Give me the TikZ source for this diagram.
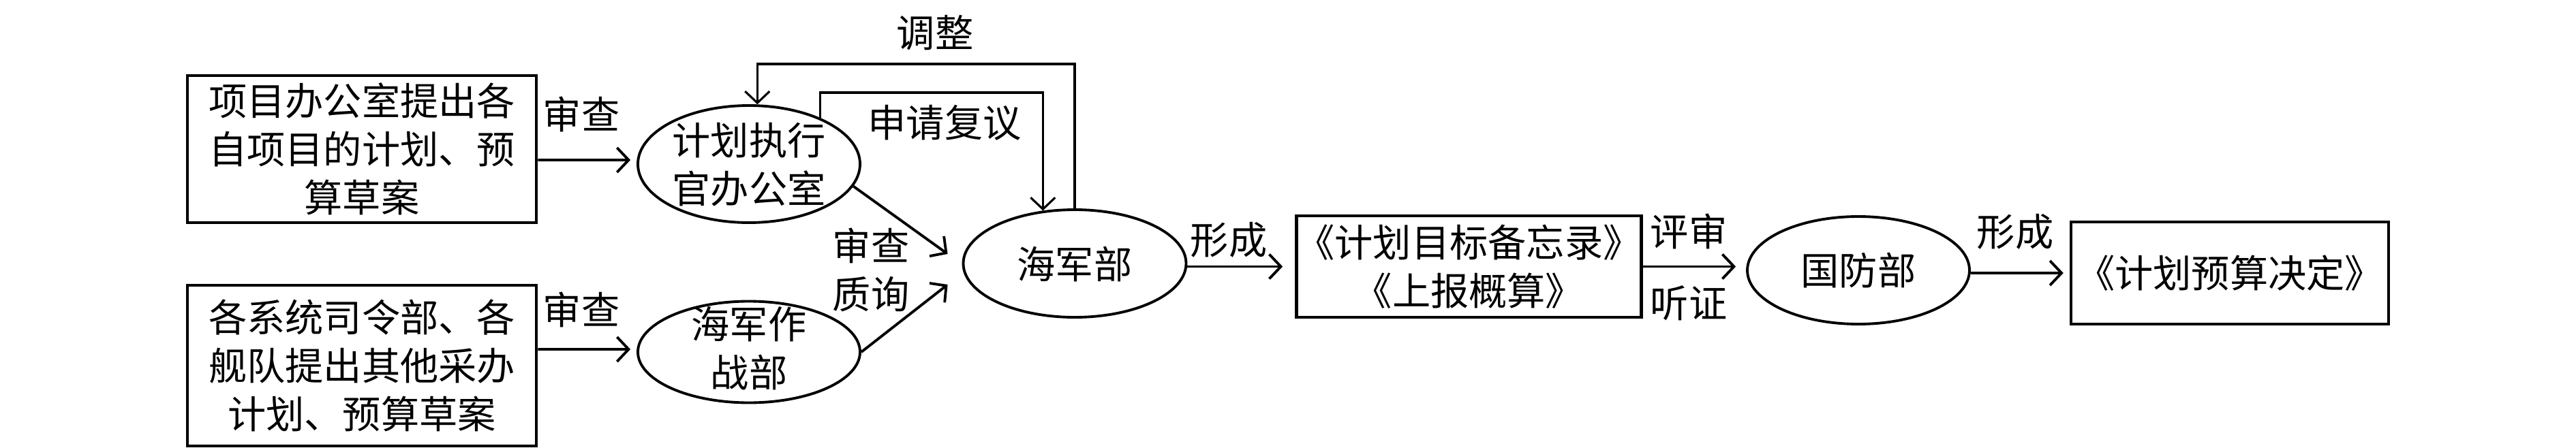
\documentclass[tikz,border=0pt]{standalone}
\usepackage{fontspec}
\setmainfont{Noto Sans CJK SC}
\usetikzlibrary{arrows.meta,shapes.geometric,calc}
\begin{document}
\begin{tikzpicture}[
  font=\fontsize{16pt}{20.2pt}\selectfont,
  box/.style={draw, line width=1.3pt, inner sep=0pt, align=center},
  ell/.style={ellipse, draw, line width=1.1pt, inner sep=0pt},
  lab/.style={inner sep=0pt, align=center},
  arr/.style={-{Straight Barb[length=1.7mm,width=3.6mm]}, line width=1.1pt, shorten >=0.9mm},
  fb/.style={-{Straight Barb[length=1.7mm,width=3.6mm]}, line width=0.9pt},
]
\useasboundingbox (0,0) rectangle (37.8,-6.58);
% boxes
\node[box, minimum width=5.12cm, minimum height=2.16cm] (b1) at (5.31,-2.19) {项目办公室提出各\\自项目的计划、预\\算草案};
\node[box, minimum width=5.12cm, minimum height=2.36cm] (b2) at (5.31,-5.37) {各系统司令部、各\\舰队提出其他采办\\计划、预算草案};
% ellipses
\node[ell, minimum width=3.26cm, minimum height=1.72cm] (e1) at (10.99,-2.41) {};
\node[lab] (t1) at (10.99,-2.42) {计划执行\\官办公室};
\node[ell, minimum width=3.26cm, minimum height=1.49cm] (e2) at (10.99,-5.17) {};
\node[lab] (t2) at (10.99,-5.12) {海军作\\战部};
\node[ell, minimum width=3.27cm, minimum height=1.58cm] (e3) at (15.77,-3.87) {};
\node[lab] (t3) at (15.77,-3.88) {海军部};
\node[box, minimum width=5.05cm, minimum height=1.49cm] (b3) at (21.555,-3.915) {《计划目标备忘录》\\《上报概算》};
\node[ell, minimum width=3.26cm, minimum height=1.58cm] (e4) at (27.27,-3.97) {};
\node[lab] (t4) at (27.27,-3.97) {国防部};
\node[box, minimum width=4.66cm, minimum height=1.50cm] (b4) at (32.72,-4.01) {《计划预算决定》};
% labels
\node[lab] (l1) at (8.53,-1.68) {审查};
\node[lab] (l2) at (8.53,-4.55) {审查};
\node[lab] (l3) at (13.72,-0.48) {调整};
\node[lab] (l4) at (13.86,-1.80) {申请复议};
\node[lab] (l5) at (12.78,-3.965) {审查\\质询};
\node[lab] (l6) at (18.03,-3.52) {形成};
\node[lab] (l7) at (24.78,-3.40) {评审};
\node[lab] (l8) at (24.78,-4.45) {听证};
\node[lab] (l9) at (29.57,-3.40) {形成};
% connectors
\coordinate (ytop) at (0,-0.94);
\coordinate (ymid) at (0,-1.36);
\coordinate (in1) at ([xshift=-0.21cm,yshift=0.14cm]e3.west);
\coordinate (in2) at ([xshift=-0.21cm,yshift=-0.31cm]e3.west);
\draw[arr] ([yshift=-0.16cm]b1.east) -- ([yshift=0.06cm]e1.west);
\draw[arr] ([yshift=0.24cm]b2.east) -- ([yshift=0.04cm]e2.west);
\draw[fb] (e3.north) |- (e1.82 |- ytop) -- (e1.82);
\draw[fb] (e1.33) |- (e3.121 |- ymid) -- (e3.121);
\draw[arr, shorten >=0pt] (e1.-12) -- (in1);
\draw[arr, shorten >=0pt] (e2.east) -- (in2);
\draw[arr, shorten >=1.8mm] (e3.east |- b3.west) -- (b3.west);
\draw[arr, shorten >=1.5mm] (b3.east) -- (e4.west |- b3.east);
\draw[arr] (e4.east |- b4.west) -- (b4.west);
\end{tikzpicture}
\end{document}
